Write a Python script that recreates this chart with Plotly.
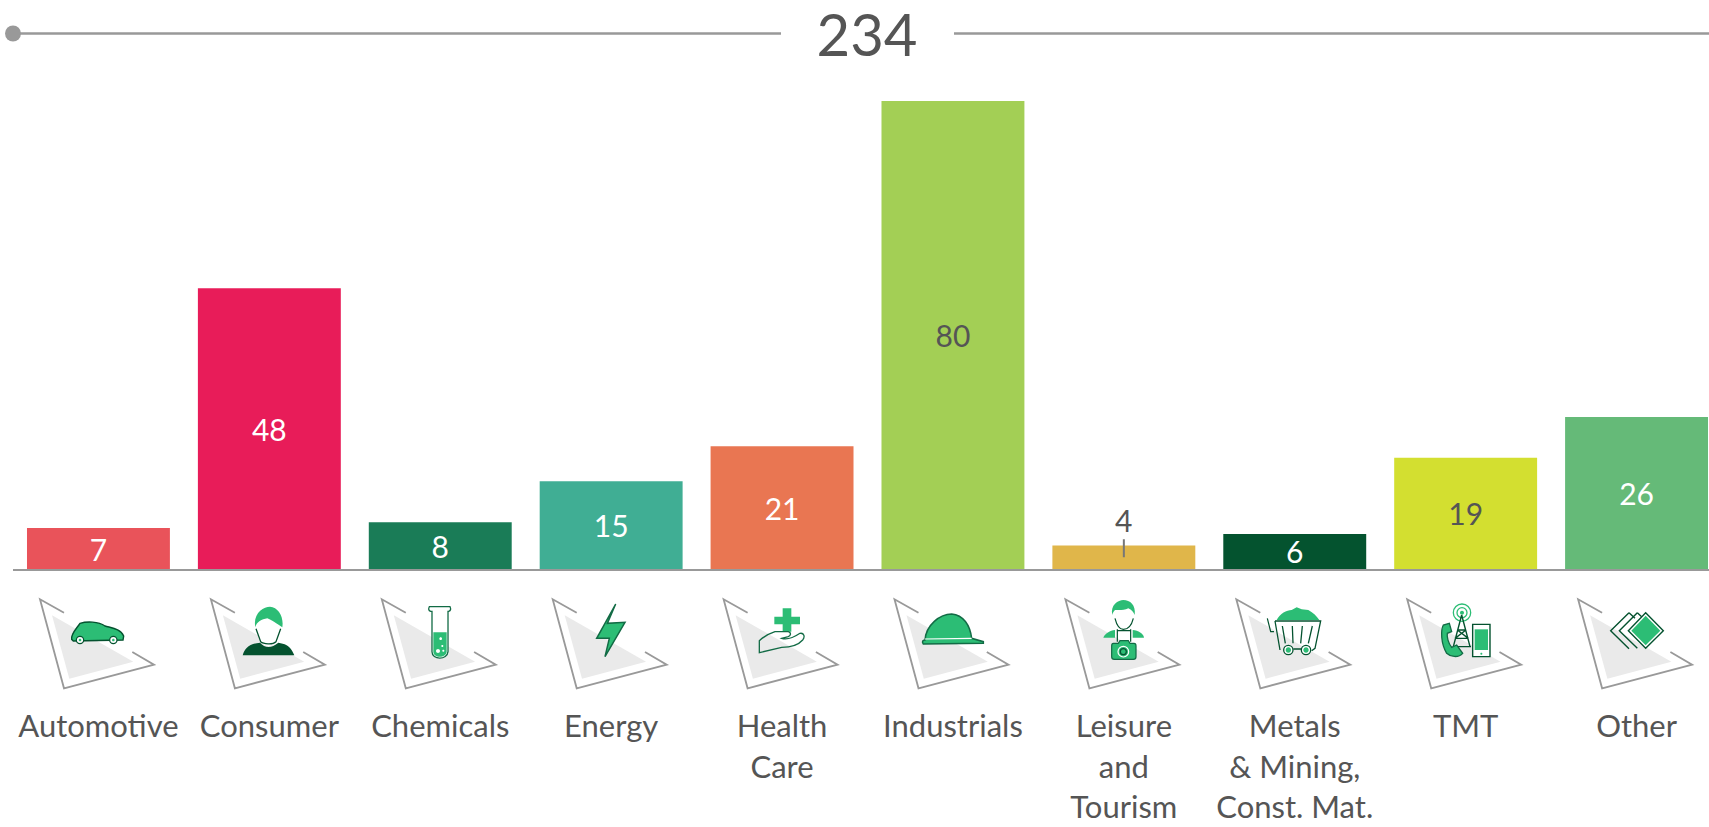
import re
import plotly.graph_objects as go

categories = ["Automotive", "Consumer", "Chemicals", "Energy", "Health<br>Care", "Industrials",
              "Leisure<br>and<br>Tourism", "Metals<br>&amp; Mining,<br>Const. Mat.", "TMT", "Other"]
values = [7, 48, 8, 15, 21, 80, 4, 6, 19, 26]
bar_colors = ["#E9535A", "#E81C59", "#1A7C57", "#40AE94", "#E97652", "#A3CF55", "#E0B64A", "#04532F", "#D3DF30", "#65BA78"]
label_colors = ["#FFFFFF", "#FFFFFF", "#FFFFFF", "#FFFFFF", "#FFFFFF", "#555555", "#555555", "#FFFFFF", "#555555", "#FFFFFF"]
total_label = "234"

FONT = "Lato"
W, H = 1709, 827
ML, MR, MT, MB = 13, 0, 72, 258
PX_PER_UNIT = 5.85
STEP = 170.9
PW, PH = W - ML - MR, H - MT - MB
GREEN, DARK, DEEP, GREY = "#2CBD75", "#126B45", "#04522F", "#999999"


def px(x):
    return (x - ML) / PW


def py(y):
    return (H - MB - y) / PH


def to_paper(path, dx, dy):
    nums = re.compile(r"(-?\d+\.?\d*),(-?\d+\.?\d*)")
    return nums.sub(lambda m: f"{px(float(m[1]) + dx):.5f},{py(float(m[2]) + dy):.5f}", path)


def z2abs(path, origin):
    # coordinates measured at 3x from a crop whose top-left is `origin`
    nums = re.compile(r"(-?\d+\.?\d*),(-?\d+\.?\d*)")
    return nums.sub(lambda m: f"{origin[0] + float(m[1]) / 3:.2f},{origin[1] + float(m[2]) / 3:.2f}", path)


def circ(cx, cy, r):
    k = 0.5523 * r
    return (f"M{cx - r},{cy} C{cx - r},{cy - k} {cx - k},{cy - r} {cx},{cy - r} "
            f"C{cx + k},{cy - r} {cx + r},{cy - k} {cx + r},{cy} "
            f"C{cx + r},{cy + k} {cx + k},{cy + r} {cx},{cy + r} "
            f"C{cx - k},{cy + r} {cx - r},{cy + k} {cx - r},{cy} Z")


shapes = []


def add(path, fill=None, line=None, width=1.3):
    s = dict(type="path", xref="paper", yref="paper", path=path, layer="above",
             line=dict(color=line or "rgba(0,0,0,0)", width=width if line else 0))
    if fill:
        s["fillcolor"] = fill
    shapes.append(s)


def piece(origin, path, fill=None, line=None, width=1.3):
    add(to_paper(z2abs(path, origin), 0, 0), fill, line, width)


# icons: each entry is (crop origin x, crop origin y, parts)
O = 590
icons = [
    ((30, O), [
        ("M125,148 C122,132 138,118 150,100 C170,94 205,94 225,108 C245,114 272,116 281,138 L279,150 L130,153 Z", GREEN, DEEP, 1.4),
        (circ(150, 150, 11), "#FFFFFF", DEEP, 1.2), (circ(150, 150, 4), GREEN, None, 0),
        (circ(250, 150, 11), "#FFFFFF", DEEP, 1.2), (circ(250, 150, 4), GREEN, None, 0)]),
    ((30, O), [
        ("M638,196 C645,175 655,162 690,158 C705,175 725,175 745,158 C775,162 785,175 793,196 Z", DEEP, None, 0),
        ("M676,110 C680,95 695,88 712,85 C735,95 745,105 757,112 L750,135 C745,155 730,168 715,168 C700,168 690,155 683,135 Z", "#FFFFFF", None, 0),
        ("M676,112 C668,70 700,50 720,50 C745,52 762,80 757,112 C745,105 735,95 712,85 C695,88 680,95 676,112 Z", GREEN, None, 0),
        ("M678,116 L692,155 C700,162 728,165 738,155 L752,116", None, DEEP, 1.3)]),
    ((370, O), [
        ("M178,50 L240,50 C243,56 243,62 236,64 L234,64 L234,185 C232,211 186,211 186,185 L186,64 L182,64 C175,62 175,56 178,50 Z", "#FFFFFF", DARK, 1.3),
        ("M190,127 L230,127 L230,185 C228,205 190,205 190,185 Z", GREEN, None, 0),
        (circ(204, 183, 6), "#FFFFFF", None, 0), (circ(217, 168, 3), "#FFFFFF", None, 0),
        (circ(212, 146, 4), "#FFFFFF", None, 0), (circ(220, 182, 3), "#FFFFFF", None, 0)]),
    ((370, O), [
        ("M737,42 L712,100 L765,97 L705,200 L718,145 L680,145 Z", GREEN, DARK, 1.5)]),
    ((720, O), [
        ("M188,55 L214,55 L214,80 L240,80 L240,103 L214,103 L214,125 L188,125 L188,103 L163,103 L163,80 L188,80 Z", GREEN, None, 0),
        ("M118,152 C130,140 150,130 165,125 L205,125 C215,128 212,137 205,140 L185,145 C205,152 225,140 240,130 C252,128 256,140 248,150 C235,165 210,172 185,172 L118,188 Z", None, DARK, 1.3)]),
    ((720, O), [
        ("M615,150 C618,105 660,72 695,72 C730,75 750,105 755,145 L790,155 L790,160 L610,162 C605,155 608,150 615,150 Z", GREEN, DARK, 1.5),
        ("M615,147 L755,145", None, "#FFFFFF", 1.2)]),
    ((1060, O), [
        ("M130,143 C135,130 150,122 165,120 L165,143 Z", GREEN, None, 0),
        ("M218,120 C235,122 250,130 252,143 L218,143 Z", GREEN, None, 0),
        ("M157,75 C150,45 175,30 190,30 C210,30 228,45 224,75 C220,65 215,60 205,55 C190,62 175,60 165,60 C160,65 158,70 157,75 Z", GREEN, None, 0),
        ("M165,85 C170,105 180,118 190,118 C205,118 215,105 220,85", None, DEEP, 1.2),
        ("M172,118 L172,155 M212,118 L212,155 M172,122 L212,122", None, DEEP, 1.2),
        ("M160,160 L175,160 L180,152 L205,152 L210,160 L222,160 C226,160 228,164 228,168 L228,200 C228,205 225,208 220,208 L163,208 C158,208 155,205 155,200 L155,168 C155,164 157,160 160,160 Z", GREEN, DARK, 1.2),
        (circ(190, 185, 16), None, "#FFFFFF", 1.2), (circ(190, 185, 9), None, DEEP, 1.2)]),
    ((1060, O), [
        ("M650,90 C660,70 680,60 695,60 L710,52 L725,58 L745,60 C760,68 770,78 778,90 Z", GREEN, None, 0),
        ("M645,93 L782,93 L765,175 L755,182 M725,177 L700,177 M660,180 L645,93", None, DEEP, 1.3),
        ("M622,85 L632,125 L642,125", None, DEEP, 1.2),
        ("M667,108 L676,160 M697,108 L699,160 M727,108 L722,160 M757,108 L745,160", None, DEEP, 1.3),
        (circ(685, 180, 14), "#FFFFFF", DEEP, 1.3), (circ(685, 180, 8), GREEN, None, 0),
        (circ(738, 180, 14), "#FFFFFF", DEEP, 1.3), (circ(738, 180, 8), GREEN, None, 0)]),
    ((1400, O), [
        (circ(186, 68, 26), None, GREEN, 1.3), (circ(186, 68, 15), None, GREEN, 1.3), (circ(186, 68, 6), GREEN, None, 0),
        ("M185,75 L160,170 M185,75 L210,170 M172,120 L198,120 M165,145 L205,145 M172,120 L205,145 M198,120 L165,145 M158,170 L213,170", None, DEEP, 1.4),
        ("M130,105 C122,120 122,160 140,190 C150,200 175,205 188,190 L170,165 L155,172 C145,160 140,140 142,130 L155,125 L148,100 Z", GREEN, DARK, 1.3),
        ("M218,103 L270,103 L270,200 L218,200 Z", "#FFFFFF", DEEP, 1.4),
        ("M224,118 L264,118 L264,180 L224,180 Z", GREEN, None, 0),
        (circ(244, 191, 3), GREEN, None, 0)]),
    ((1400, O), [
        ("M687,68 L632,122 L687,176 M687,68 L705,85", None, DEEP, 1.4),
        ("M712,68 L658,122 L712,175 M712,68 L725,80", None, DEEP, 1.4),
        ("M737,68 L790,122 L737,175 L685,122 Z", "#FFFFFF", DEEP, 1.4),
        ("M737,77 L781,122 L737,166 L694,122 Z", GREEN, None, 0)]),
]

# triangle frames, measured at the first slot and repeated per slot
for i in range(len(categories)):
    offset = i * STEP
    add(to_paper("M52,615.3 L69.3,678.7 L133.3,661.7 Z", offset, 0), "#EAEAEA")
    add(to_paper("M64,612.7 L40,599.3 L64,688.3 L154,664.7 L132.3,652", offset, 0), None, GREY, 1.8)
for origin, parts in icons:
    for p, f, l, w in parts:
        piece(origin, p, f, l, w)

# header rule with dot and gap around the total
for x0, x1 in ((13, 781), (954, 1709)):
    shapes.append(dict(type="line", xref="paper", yref="paper", x0=px(x0), x1=px(x1), y0=py(33.5), y1=py(33.5),
                       line=dict(color=GREY, width=2.5), layer="above"))
shapes.append(dict(type="circle", xref="paper", yref="paper", x0=px(5), x1=px(21), y0=py(25.5), y1=py(41.5),
                   fillcolor=GREY, line=dict(width=0), layer="above"))

fig = go.Figure(go.Bar(
    x=categories, y=values,
    marker=dict(color=bar_colors, line=dict(width=0)),
    text=[str(v) if v != 4 else "" for v in values],
    textposition="inside", insidetextanchor="middle", textangle=0, constraintext="none",
    textfont=dict(family=FONT, size=30, color=label_colors),
    hoverinfo="x+y",
))
small_index = values.index(4)
fig.update_layout(
    width=W, height=H, autosize=False, showlegend=False,
    margin=dict(l=ML, r=MR, t=MT, b=MB, pad=0, autoexpand=False),
    paper_bgcolor="#FFFFFF", plot_bgcolor="#FFFFFF",
    font=dict(family=FONT, color="#555555"),
    bargap=28 / 171,
    title=dict(text=total_label, x=867 / W, xanchor="center", xref="container",
               y=1 - 36 / H, yanchor="middle", yref="container",
               font=dict(family=FONT, size=58, color="#555555")),
    xaxis=dict(type="category", categoryorder="array", categoryarray=categories,
               range=[-0.5, -0.5 + PW / STEP], showgrid=False, zeroline=False,
               showline=True, linecolor=GREY, linewidth=2, ticks="", automargin=False,
               tickangle=0, ticklabelstandoff=129,
               tickfont=dict(family=FONT, size=31, color="#555555")),
    yaxis=dict(range=[0, PH / PX_PER_UNIT], visible=False, showgrid=False, zeroline=False),
    shapes=shapes,
    annotations=[dict(x=categories[small_index], y=values[small_index] / 2, xref="x", yref="y",
                      text=str(values[small_index]), showarrow=True, arrowhead=0, arrowwidth=2,
                      arrowcolor="#777777", ax=0, ay=-37.5,
                      font=dict(family=FONT, size=30, color="#555555"))],
)
fig.write_html("out.html", config=dict(displayModeBar=False),
               post_script="document.body.style.margin='0';document.body.style.overflow='hidden';")
